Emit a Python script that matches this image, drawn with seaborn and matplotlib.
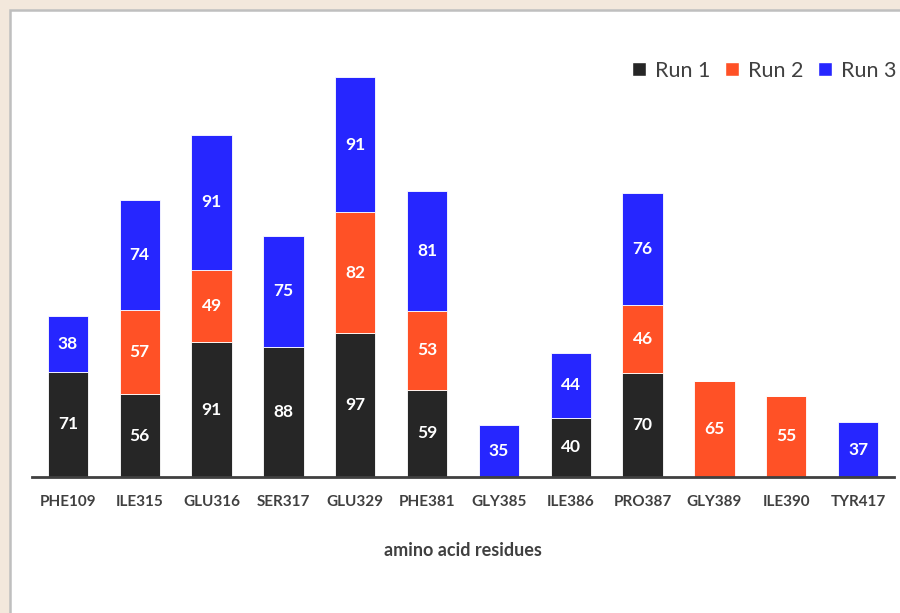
import numpy as np
import pandas as pd
import matplotlib
matplotlib.use("Agg")
import matplotlib.pyplot as plt
import matplotlib.patches as mpatches
import seaborn as sns

residues = ["PHE109", "ILE315", "GLU316", "SER317", "GLU329", "PHE381",
            "GLY385", "ILE386", "PRO387", "GLY389", "ILE390", "TYR417"]
run1 = [71, 56, 91, 88, 97, 59, 0, 40, 70, 0, 0, 0]
run2 = [0, 57, 49, 0, 82, 53, 0, 0, 46, 65, 55, 0]
run3 = [38, 74, 91, 75, 91, 81, 35, 44, 76, 0, 0, 37]
run_names = ["Run 1", "Run 2", "Run 3"]
run_colors = ["#262626", "#FF5126", "#2626FF"]

sns.set_theme(style="white")
plt.rcParams["font.family"] = ["Lato", "DejaVu Sans"]

fig = plt.figure(figsize=(9, 6.13), dpi=100, facecolor="#F3E8DC")
# white chart panel with grey frame, kept behind the axes
fig.patches.append(mpatches.Rectangle((10 / 900, -0.1), 1.0, 1 - 10 / 613 + 0.1,
                                      transform=fig.transFigure, facecolor="white",
                                      edgecolor="#BFBFBF", linewidth=1.8, zorder=-5))
ax = fig.add_axes([32 / 900, 1 - 477 / 613, 862 / 900, 447 / 613])
ax.set_facecolor("none")

bottom = np.zeros(len(residues))
for name, vals, col in zip(run_names, [run1, run2, run3], run_colors):
    vals = np.array(vals, dtype=float)
    sns.barplot(x=residues, y=vals, bottom=bottom, color=col, width=0.56,
                saturation=1, edgecolor="white", linewidth=0.6, ax=ax, label=name)
    cont = ax.containers[-1]
    labels = [f"{int(v)}" if v > 0 else "" for v in vals]
    ax.bar_label(cont, labels=labels, label_type="center", color="white",
                 fontsize=12.5, fontweight="bold")
    bottom = bottom + vals

ax.set_xlim(-0.5, len(residues) - 0.5)
ax.set_ylim(0, 302)
ax.set_yticks([])
for s in ["top", "right", "left"]:
    ax.spines[s].set_visible(False)
ax.spines["bottom"].set_color("#404040")
ax.spines["bottom"].set_linewidth(2)
ax.tick_params(axis="x", length=0, pad=13, labelsize=11, labelcolor="#404040")
for t in ax.get_xticklabels():
    t.set_fontweight("bold")
ax.set_xlabel("amino acid residues", fontsize=13, fontweight="bold",
              color="#404040", labelpad=24)

handles = [mpatches.Patch(facecolor=c, edgecolor="white", label=n)
           for n, c in zip(run_names, run_colors)]
ax.legend(handles=handles, loc="upper right", bbox_to_anchor=(1.025, 0.975),
          ncol=3, frameon=False, fontsize=15.5, labelcolor="#404040",
          handlelength=0.65, handleheight=0.65, handletextpad=0.4, columnspacing=0.7)

fig.savefig("out.png", dpi=100, facecolor=fig.get_facecolor())
